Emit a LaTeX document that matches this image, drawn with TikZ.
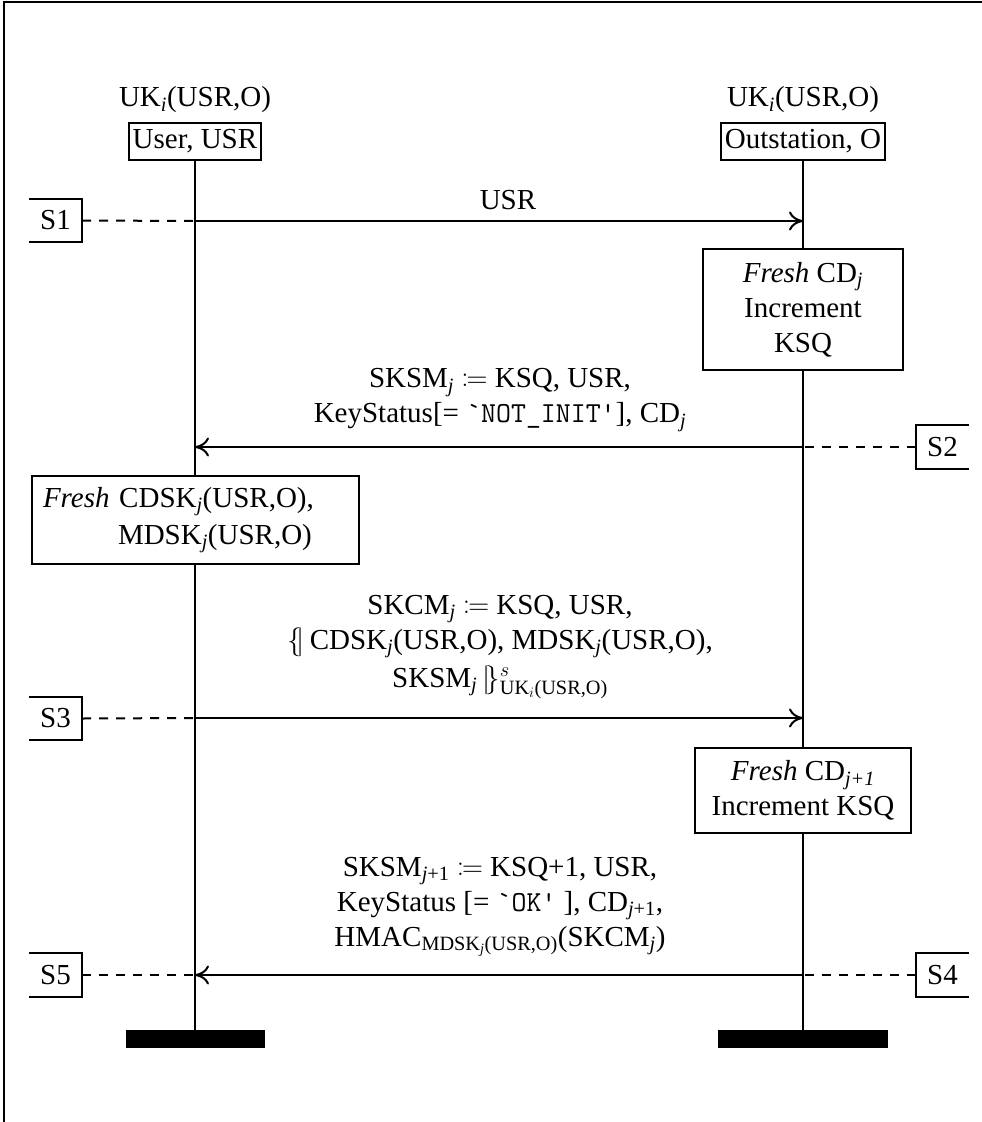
\RequirePackage{fix-cm}
\documentclass[tikz,border=0pt]{standalone}
\usepackage{amsmath,mathtools}
\usepackage{fontspec}
\setmainfont{Liberation Serif}
\usetikzlibrary{arrows.meta}
\begin{document}
\begin{tikzpicture}[x=1pt,y={(0pt,-1pt)},
  font=\fontsize{29}{35}\selectfont,
  lifebox/.style={draw, line width=2pt, inner xsep=4pt, minimum height=37pt, fill=white},
  actbox/.style={draw, line width=2pt, fill=white, align=center},
  msg/.style={line width=2pt, -{To[length=14pt,width=19pt]}},
  link/.style={line width=2pt, dash pattern=on 9pt off 8pt},
  tagbox/.style={minimum width=53pt, minimum height=43pt, inner sep=0pt},
  tagline/.style={line width=2pt},
  lab/.style={align=center},
  bar/.style={fill=black, inner sep=0pt, minimum height=18pt},
  life/.style={line width=2.6pt}]
\useasboundingbox (0,0) rectangle (982,1122);
\draw[line width=2.4pt] (4,1122) -- (4,2) -- (982,2);

% participants
\node (ukl) at (195,100) {UK\textsubscript{\textit{i}}(USR,O)};
\node (ukr) at (803,100) {UK\textsubscript{\textit{i}}(USR,O)};
\node[lifebox] (usr) at (195,141.5) {User, USR};
\node[lifebox] (out) at (803,141.5) {Outstation, O};
\node[bar, minimum width=139pt] (ubar) at (195,1039) {};
\node[bar, minimum width=170pt] (obar) at (803,1039) {};
\draw[life] (usr.south) -- (ubar.north);
\draw[life] (out.south) -- (obar.north);

% message 1
\coordinate (u1) at (195,221);
\coordinate (o1) at (803,221);
\node[tagbox] (s1) at (55.5,220.5) {S1};
\draw[tagline] (s1.north west) -- (s1.north east) -- (s1.south east) -- (s1.south west);
\draw[link] (s1.east) -- (u1);
\draw[msg] (u1) -- (o1);
\node[lab] (m1) at (508,200) {USR};

% action 1
\node[actbox, minimum width=200pt, minimum height=121pt] (a1) at (803,309.5)
  {\textit{Fresh} CD\textsubscript{\textit{j}}\\Increment\\KSQ};

% message 2
\node[lab] (m2) at (500,400) {SKSM\textsubscript{\textit{j}} $\coloneqq$ KSQ, USR,\\KeyStatus[= \texttt{`NOT\_INIT'}], CD\textsubscript{\textit{j}}};
\coordinate (o2) at (803,447);
\coordinate (u2) at (195,447);
\draw[msg] (o2) -- (u2);
\node[tagbox] (s2) at (942.5,447) {S2};
\draw[tagline] (s2.north east) -- (s2.north west) -- (s2.south west) -- (s2.south east);
\draw[link] (s2.west) -- (o2);

% action 2
\node[actbox, minimum width=327pt, minimum height=88pt, text width=305pt, inner xsep=10pt, align=left] (a2) at (195.5,520)
  {\textit{Fresh} CDSK\textsubscript{\textit{j}}(USR,O),\\[2pt]\hspace*{75pt}MDSK\textsubscript{\textit{j}}(USR,O)};

% message 3
\node[lab] (m3) at (500,647) {SKCM\textsubscript{\textit{j}} $\coloneqq$ KSQ, USR,\\$\{\!|$\,CDSK\textsubscript{\textit{j}}(USR,O), MDSK\textsubscript{\textit{j}}(USR,O),\\[3pt]SKSM\textsubscript{\textit{j}}\,$|\!\}^{s}_{\text{UK}_{i}\text{(USR,O)}}$};
\coordinate (u3) at (195,718);
\coordinate (o3) at (803,718);
\node[tagbox] (s3) at (55.5,718.5) {S3};
\draw[tagline] (s3.north west) -- (s3.north east) -- (s3.south east) -- (s3.south west);
\draw[link] (s3.east) -- (u3);
\draw[msg] (u3) -- (o3);

% action 3
\node[actbox, minimum width=216pt, minimum height=85pt] (a3) at (803,790.5)
  {\textit{Fresh} CD\textsubscript{\textit{j+1}}\\Increment KSQ};

% message 4
\node[lab] (m4) at (500,907) {SKSM\textsubscript{\textit{j}+1} $\coloneqq$ KSQ+1, USR,\\KeyStatus [= \texttt{`OK'} ], CD\textsubscript{\textit{j}+1},\\HMAC\textsubscript{MDSK\textsubscript{\textit{j}}(USR,O)}(SKCM\textsubscript{\textit{j}})};
\coordinate (o4) at (803,975);
\coordinate (u4) at (195,975);
\draw[msg] (o4) -- (u4);
\node[tagbox] (s4) at (942.5,975) {S4};
\draw[tagline] (s4.north east) -- (s4.north west) -- (s4.south west) -- (s4.south east);
\draw[link] (s4.west) -- (o4);
\node[tagbox] (s5) at (55.5,975) {S5};
\draw[tagline] (s5.north west) -- (s5.north east) -- (s5.south east) -- (s5.south west);
\draw[link] (s5.east) -- (u4);
\end{tikzpicture}
\end{document}
